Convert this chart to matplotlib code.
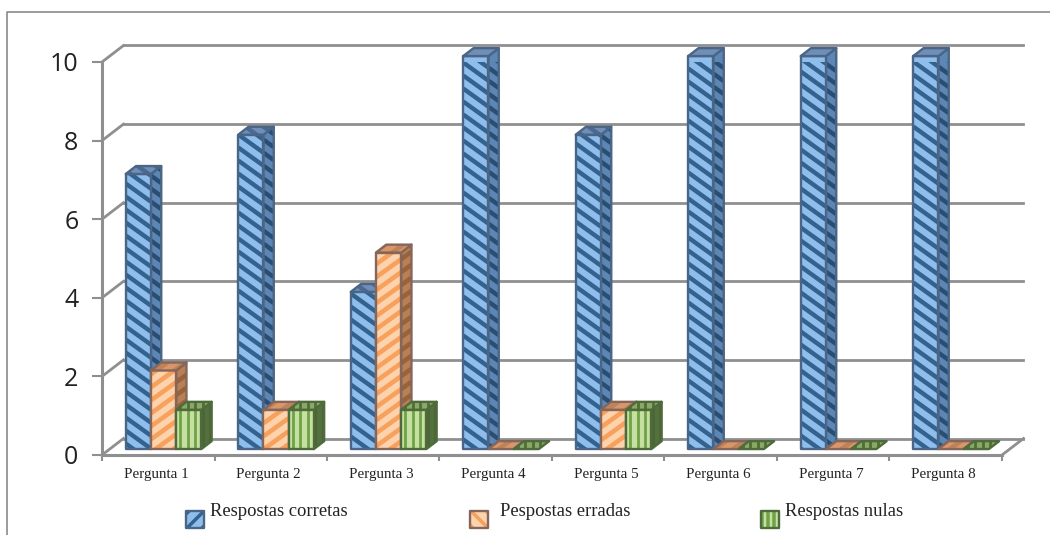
import matplotlib
matplotlib.use('Agg')
from matplotlib import pyplot as plt
from matplotlib.collections import LineCollection
from matplotlib.patches import Polygon
from matplotlib.transforms import IdentityTransform
import numpy as np

categories = ['Pergunta 1', 'Pergunta 2', 'Pergunta 3', 'Pergunta 4',
              'Pergunta 5', 'Pergunta 6', 'Pergunta 7', 'Pergunta 8']
corretas = [7, 8, 4, 10, 8, 10, 10, 10]
erradas = [2, 1, 5, 0, 1, 0, 0, 0]
nulas = [1, 1, 1, 0, 1, 0, 0, 0]
y_ticks = [0, 2, 4, 6, 8, 10]
series_names = ['Respostas corretas', 'Pespostas erradas', 'Respostas nulas']

FIG_W, FIG_H = 1050, 535
GREY = '#8f8f8f'

# slope is in screen pixels (y up), None means vertical stripes
STYLES = [
    dict(front=('#8fbdec', '#34628f'), side=('#5c87b5', '#2a4d72'), top=('#6f8fb8', '#4a6a92'),
         edge='#4a6585', slope=-0.72, gap=13, width=4.4),
    dict(front=('#fdd3ae', '#f8a15c'), side=('#b97f55', '#96633c'), top=('#d9966a', '#c08258'),
         edge='#85665a', slope=0.72, gap=13, width=4.6),
    dict(front=('#c6e0a4', '#70a346'), side=('#55703f', '#4a6636'), top=('#8aa868', '#4f7035'),
         edge='#4f6b3c', slope=None, gap=7.5, width=2.8),
]

fig = plt.figure(figsize=(FIG_W / 100, FIG_H / 100), dpi=100)

# page layer in pixels, for the frame and the legend
page = fig.add_axes([0, 0, 1, 1], zorder=0)
page.set_xlim(0, FIG_W)
page.set_ylim(FIG_H, 0)
page.axis('off')

ax = fig.add_axes([102 / FIG_W, 1 - 455 / FIG_H, 900 / FIG_W, 393 / FIG_H], zorder=1)
ax.set_xlim(0, len(categories))
ax.set_ylim(0, 10)
ax.patch.set_alpha(0)
for s in ax.spines.values():
    s.set_visible(False)

# shear that fakes the 3d depth, in data units per unit of depth
DX = 21.5 / 112.5
DY = 16.5 / 39.3


def sheared(x, y, d):
    return (x + d * DX, y + d * DY)


def stripes(target, patch, pts, stripe, slope, gap, width, z):
    # hatch lines laid out in screen pixels and clipped to the patch
    disp = target.transData.transform(pts)
    x0, y0 = disp.min(axis=0)
    x1, y1 = disp.max(axis=0)
    if slope is None:
        segs = [[(x, y0), (x, y1)] for x in np.arange(np.floor(x0 / gap) * gap, x1 + gap, gap)]
    else:
        cs = [y - slope * x for x in (x0, x1) for y in (y0, y1)]
        start = np.floor(min(cs) / gap) * gap
        segs = [[(x0, slope * x0 + c), (x1, slope * x1 + c)]
                for c in np.arange(start, max(cs) + gap, gap)]
    lines = LineCollection(segs, colors=stripe, linewidths=width * 72 / 100,
                           transform=IdentityTransform(), zorder=z)
    target.add_collection(lines, autolim=False)
    lines.set_clip_path(patch)


def face(target, pts, colors, st, z=3, slope='style', gap=None, width=None):
    fill, stripe = colors
    patch = Polygon(pts, closed=True, facecolor=fill, edgecolor='none', zorder=z, clip_on=False)
    target.add_patch(patch)
    stripes(target, patch, pts, stripe,
            st['slope'] if slope == 'style' else slope,
            gap or st['gap'], width or st['width'], z)
    target.add_patch(Polygon(pts, closed=True, fill=False, edgecolor=st['edge'], lw=1.7,
                             joinstyle='round', zorder=z, clip_on=False))


def draw_bar(x0, x1, value, st):
    d0, d1 = 0.36, 0.84
    front = [sheared(x0, 0, d0), sheared(x1, 0, d0), sheared(x1, value, d0), sheared(x0, value, d0)]
    side = [sheared(x1, 0, d0), sheared(x1, 0, d1), sheared(x1, value, d1), sheared(x1, value, d0)]
    top = [sheared(x0, value, d0), sheared(x1, value, d0), sheared(x1, value, d1), sheared(x0, value, d1)]
    if value > 0:
        face(ax, side, st['side'], st)
        face(ax, front, st['front'], st)
    face(ax, top, st['top'], st)


# back wall gridlines and floor
n = len(categories)
for v in y_ticks:
    ax.plot([DX, n + DX], [v + DY, v + DY], color=GREY, lw=2, zorder=1, clip_on=False)
    ax.plot([0, DX], [v, v + DY], color=GREY, lw=2, zorder=1, clip_on=False)
ax.plot([0, 0], [0, 10], color=GREY, lw=2.2, zorder=2, clip_on=False)
ax.plot([0, n], [0, 0], color=GREY, lw=2.2, zorder=2, clip_on=False)
ax.plot([n, n + DX], [0, DY], color=GREY, lw=2, zorder=2, clip_on=False)

bar_w = 25.2 / 112.5
pad = 16 / 112.5
for i in range(n):
    values = [corretas[i], erradas[i], nulas[i]]
    for j in range(3):
        x0 = i + pad + j * bar_w
        draw_bar(x0, x0 + bar_w, values[j], STYLES[j])

ax.set_xticks(range(n + 1))
ax.set_xticklabels([])
ax.set_yticks(y_ticks)
ax.set_yticklabels([str(v) for v in y_ticks], fontfamily='Open Sans', fontsize=18, color='#222222')
ax.tick_params(axis='y', length=7, width=1.5, color=GREY, pad=10)
ax.tick_params(axis='x', length=4, width=1.5, color=GREY)
for i, name in enumerate(categories):
    ax.annotate(name, (i + 0.5, 0), xytext=(-1.5, -9.5), textcoords='offset points',
                ha='center', va='top', fontfamily='Liberation Serif', fontsize=10.8, color='#222222')

# frame around the chart, open on the right and at the bottom
page.plot([6.5, 6.5, 1050], [535, 11.5, 11.5], color='#8a8a8a', lw=1.2)

# legend
legend_x = [186, 470, 761]
text_x = [210, 500, 785]
legend_slopes = [1, -1, None]
for xs, xt, name, st, sl in zip(legend_x, text_x, series_names, STYLES, legend_slopes):
    box = [(xs, 511), (xs + 18, 511), (xs + 18, 528), (xs, 528)]
    face(page, box, st['front'], st, slope=sl, gap=15 if sl else 6, width=3.5)
    page.text(xt, 512, name, fontfamily='Liberation Serif', fontsize=13.4, color='#222222',
              ha='left', va='center')

fig.savefig('out.png', dpi=100)
